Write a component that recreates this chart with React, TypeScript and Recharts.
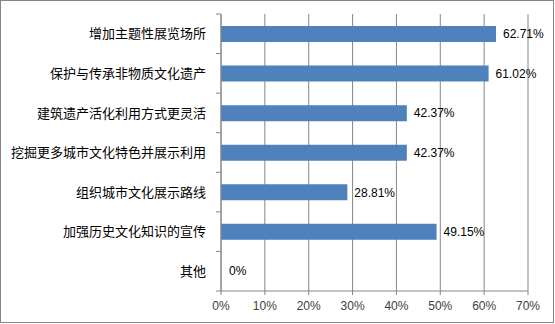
import React from 'react';
import { BarChart, Bar, XAxis, YAxis, CartesianGrid, LabelList, ReferenceDot, Label } from 'recharts';

const categories = [
  '增加主题性展览场所',
  '保护与传承非物质文化遗产',
  '建筑遗产活化利用方式更灵活',
  '挖掘更多城市文化特色并展示利用',
  '组织城市文化展示路线',
  '加强历史文化知识的宣传',
  '其他',
];
const shares = [62.71, 61.02, 42.37, 42.37, 28.81, 49.15, 0];
const xTicks = [0, 10, 20, 30, 40, 50, 60, 70];

const data = categories.map((name, i) => ({ name, value: shares[i] }));

const W = 555;
const H = 324;
const TOP = 14;
const X_AXIS_H = 33;
const BAND = (H - TOP - X_AXIS_H) / categories.length;
const GRID = '#868686';
const LABEL_FONT = '"Liberation Sans", sans-serif';

const CategoryTick = (props: any) => {
  const { x, y, payload, index } = props;
  const last = index === categories.length - 1;
  return (
    <g>
      <line x1={x - 5} x2={x} y1={y - BAND / 2} y2={y - BAND / 2} stroke={GRID} />
      {last && <line x1={x - 5} x2={x} y1={y + BAND / 2} y2={y + BAND / 2} stroke={GRID} />}
      <text x={x - 15} y={y} dy="0.36em" textAnchor="end" fontSize={13} fill="#000"
        fontFamily='"Noto Sans CJK SC", sans-serif'>
        {payload.value}
      </text>
    </g>
  );
};

const fmtLabel = (v: any) => (v === 0 ? '0%' : `${Number(v).toFixed(2)}%`);

export default function App() {
  return (
    <div style={{ position: 'absolute', left: 0, top: 0, width: W, height: H, background: '#fff' }}>
      <div style={{ position: 'absolute', left: 0, top: 0, width: 554, height: 323, border: `1px solid ${GRID}`, boxSizing: 'border-box' }} />
      <div style={{ position: 'absolute', left: 0, top: 0 }}>
        <BarChart width={W} height={H} data={data} layout="vertical"
          margin={{ top: TOP, right: 27, left: 0, bottom: 0 }}>
          <CartesianGrid horizontal={false} stroke={GRID} />
          <XAxis type="number" domain={[0, 70]} ticks={xTicks} interval={0}
            tickFormatter={(v) => `${v}%`} height={X_AXIS_H}
            axisLine={{ stroke: GRID }} tickLine={{ stroke: GRID }} tickSize={4} tickMargin={6}
            tick={{ fill: '#404040', fontSize: 12, fontFamily: LABEL_FONT }} />
          <YAxis type="category" dataKey="name" width={221} interval={0}
            axisLine={{ stroke: GRID }} tickLine={false} tickSize={0} tickMargin={0}
            tick={<CategoryTick />} />
          <Bar dataKey="value" fill="#4F81BD" barSize={16} isAnimationActive={false}>
            <LabelList dataKey="value" position="right" offset={7} formatter={fmtLabel}
              fill="#000" fontSize={12} fontFamily={LABEL_FONT} />
          </Bar>
          {data.filter((d) => d.value === 0).map((d) => (
            <ReferenceDot key={d.name} x={d.value} y={d.name} r={0} stroke="none" fill="none" ifOverflow="visible">
              <Label value={fmtLabel(d.value)} position="right" offset={8}
                fill="#000" fontSize={12} fontFamily={LABEL_FONT} />
            </ReferenceDot>
          ))}
        </BarChart>
      </div>
    </div>
  );
}
